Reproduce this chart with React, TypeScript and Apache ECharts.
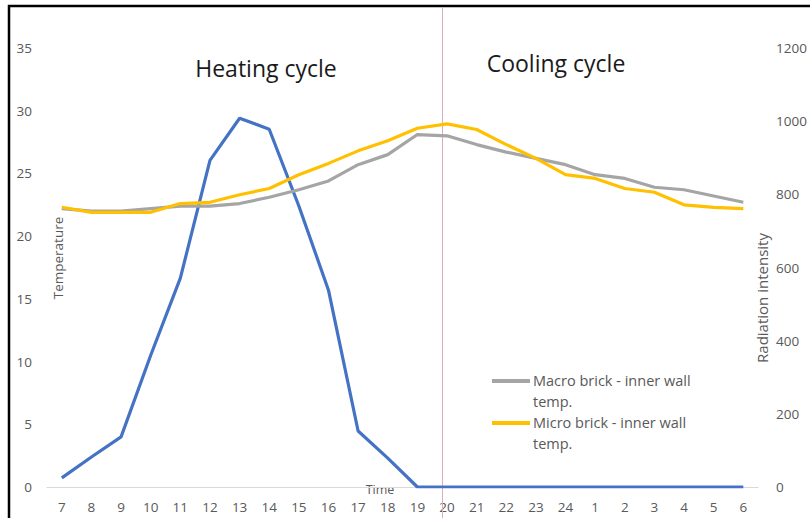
import React, { useEffect, useRef } from "react";
import * as echarts from "echarts";

const categories = ["7","8","9","10","11","12","13","14","15","16","17","18","19","20","21","22","23","24","1","2","3","4","5","6"];
const radiation = [25, 82, 137, 360, 571, 893, 1008, 978, 768, 538, 153, 79, 0, 0, 0, 0, 0, 0, 0, 0, 0, 0, 0, 0];
const macroBrick = [22.2, 22.0, 22.0, 22.2, 22.4, 22.4, 22.6, 23.1, 23.7, 24.4, 25.7, 26.5, 28.1, 28.0, 27.3, 26.7, 26.2, 25.7, 24.9, 24.6, 23.9, 23.7, 23.2, 22.7];
const microBrick = [22.3, 21.9, 21.9, 21.9, 22.6, 22.7, 23.3, 23.8, 24.9, 25.8, 26.8, 27.6, 28.6, 28.95, 28.5, 27.3, 26.2, 24.9, 24.6, 23.8, 23.5, 22.5, 22.3, 22.2];
const leftTicks = { min: 0, max: 35, interval: 5 };
const rightTicks = { min: 0, max: 1200, interval: 200 };
const legendNames = ["Macro brick - inner wall temp.", "Micro brick - inner wall temp."];
const legendColors = ["#A5A5A5", "#FFC000"];

const FONT = "'Open Sans', 'Noto Sans', sans-serif";
const GREY_TEXT = "#595959";

export default function App() {
  const ref = useRef<HTMLDivElement>(null);
  useEffect(() => {
    if (!ref.current) return;
    const chart = echarts.init(ref.current, undefined, { renderer: "svg" });
    chart.setOption({
      animation: false,
      backgroundColor: "#ffffff",
      textStyle: { fontFamily: FONT },
      grid: { left: 47, right: 45, top: 48, bottom: 31, containLabel: false },
      xAxis: {
        type: "category",
        data: categories,
        boundaryGap: true,
        axisTick: { show: false },
        axisLine: { lineStyle: { color: "#d9d9d9", width: 1 } },
        axisLabel: { color: GREY_TEXT, fontSize: 13.5, margin: 13, fontFamily: FONT, interval: 0 },
      },
      yAxis: [
        {
          type: "value",
          min: leftTicks.min,
          max: leftTicks.max,
          interval: leftTicks.interval,
          splitLine: { show: false },
          axisLine: { show: false },
          axisTick: { show: false },
          axisLabel: { color: GREY_TEXT, fontSize: 13.5, margin: 15, fontFamily: FONT },
        },
        {
          type: "value",
          min: rightTicks.min,
          max: rightTicks.max,
          interval: rightTicks.interval,
          splitLine: { show: false },
          axisLine: { show: false },
          axisTick: { show: false },
          axisLabel: { color: GREY_TEXT, fontSize: 13.5, margin: 18, fontFamily: FONT, formatter: (v: number) => String(v) },
        },
      ],
      series: [
        {
          name: "Radiation intensity",
          type: "line",
          yAxisIndex: 1,
          data: radiation,
          symbol: "none",
          lineStyle: { color: "#4472C4", width: 3.2 },
          itemStyle: { color: "#4472C4" },
          z: 3,
        },
        {
          name: legendNames[0],
          type: "line",
          yAxisIndex: 0,
          data: macroBrick,
          symbol: "none",
          lineStyle: { color: legendColors[0], width: 3.2 },
          itemStyle: { color: legendColors[0] },
          z: 4,
        },
        {
          name: legendNames[1],
          type: "line",
          yAxisIndex: 0,
          data: microBrick,
          symbol: "none",
          lineStyle: { color: legendColors[1], width: 3.2 },
          itemStyle: { color: legendColors[1] },
          z: 5,
        },
      ],
    });
    const p19 = chart.convertToPixel({ xAxisIndex: 0 }, "19") as number;
    const p20 = chart.convertToPixel({ xAxisIndex: 0 }, "20") as number;
    const divX = Math.round(p20 - (p20 - p19) * 0.17) + 0.5;
    const legendTop = [381, 423];
    const legendGraphics: any[] = [];
    legendNames.forEach((name, i) => {
      legendGraphics.push({
        type: "line",
        shape: { x1: 492, y1: legendTop[i], x2: 530, y2: legendTop[i] },
        style: { stroke: legendColors[i], lineWidth: 4 },
        silent: true,
      });
      legendGraphics.push({
        type: "text",
        x: 533,
        y: legendTop[i] - 10.5,
        style: {
          text: name.replace(" temp.", "\ntemp."),
          fontSize: 14.5,
          lineHeight: 20.5,
          fontFamily: FONT,
          fill: GREY_TEXT,
          align: "left",
          verticalAlign: "top",
        },
        silent: true,
      });
    });
    chart.setOption({
      graphic: [
        {
          type: "rect",
          shape: { x: 9, y: 6, width: 900, height: 600 },
          style: { fill: "none", stroke: "#000000", lineWidth: 2.5 },
          silent: true,
        },
        {
          type: "line",
          shape: { x1: divX, y1: 7, x2: divX, y2: 518 },
          style: { stroke: "#d9aec4", lineWidth: 1 },
          silent: true,
          z: 1,
        },
        {
          type: "text",
          x: 266,
          y: 68,
          style: { text: "Heating cycle", fontSize: 23, fontFamily: FONT, fill: "#1a1a1a", align: "center", verticalAlign: "middle" },
        },
        {
          type: "text",
          x: 556,
          y: 63,
          style: { text: "Cooling cycle", fontSize: 23, fontFamily: FONT, fill: "#1a1a1a", align: "center", verticalAlign: "middle" },
        },
        {
          type: "text",
          x: 380,
          y: 489,
          style: { text: "Time", fontSize: 12.5, fontFamily: FONT, fill: GREY_TEXT, align: "center", verticalAlign: "middle" },
        },
        {
          type: "text",
          x: 58,
          y: 258,
          rotation: Math.PI / 2,
          style: { text: "Temperature", fontSize: 13.5, fontFamily: FONT, fill: GREY_TEXT, align: "center", verticalAlign: "middle" },
        },
        {
          type: "text",
          x: 762,
          y: 298,
          rotation: Math.PI / 2,
          style: { text: "Radiation intensity", fontSize: 15, fontFamily: FONT, fill: GREY_TEXT, align: "center", verticalAlign: "middle" },
        },
        ...legendGraphics,
      ],
    });
    return () => chart.dispose();
  }, []);
  return <div ref={ref} style={{ position: "absolute", left: 0, top: 0, width: 810, height: 518 }} />;
}
